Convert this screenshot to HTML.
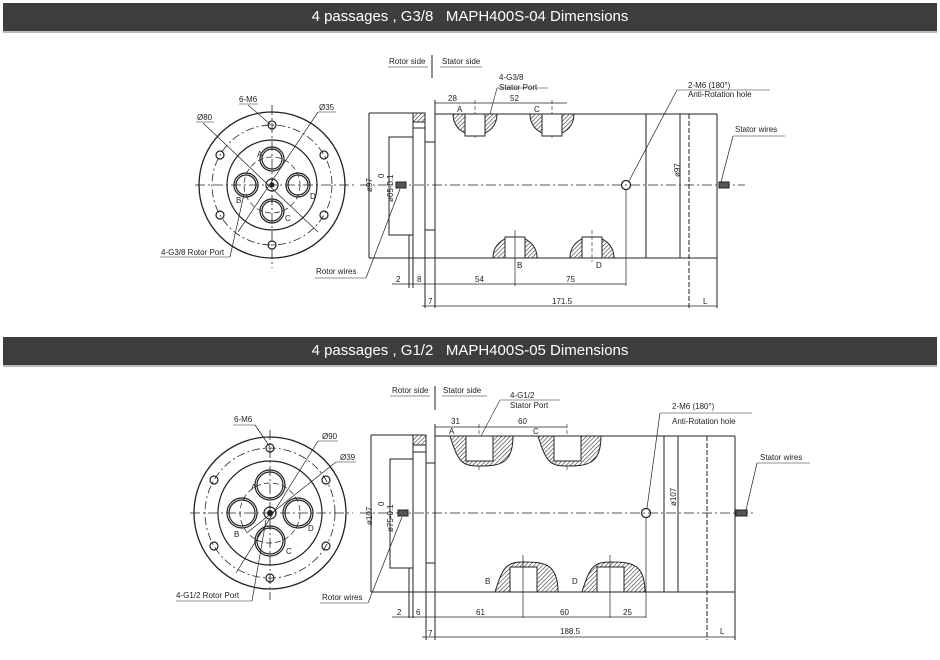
<!DOCTYPE html>
<html><head><meta charset="utf-8"><style>
html,body{margin:0;padding:0;background:#fff;width:940px;height:660px;overflow:hidden}
.bar{position:absolute;left:3px;width:934px;height:28px;background:#3d3d3d;color:#fff;font:15px "Liberation Sans",sans-serif;text-align:center;line-height:28px;border-bottom:2px solid #bbb}
svg{position:absolute;left:0;top:0}
text{font-family:"Liberation Sans",sans-serif;font-size:8px;fill:#222}
</style></head><body>
<div class="bar" style="top:3px">4 passages , G3/8 &nbsp; MAPH400S-04 Dimensions</div>
<div class="bar" style="top:337px">4 passages , G1/2 &nbsp; MAPH400S-05 Dimensions</div>
<svg width="940" height="660" viewBox="0 0 940 660">
<defs>
<pattern id="h" width="3" height="3" patternUnits="userSpaceOnUse" patternTransform="rotate(45)"><rect width="3" height="3" fill="#fff"/><line x1="0" y1="0" x2="0" y2="3" stroke="#333" stroke-width="1.2"/></pattern>
</defs>
<g fill="none" stroke="#222" stroke-width="1">
<!-- ===== Drawing 1 circle view ===== -->
<circle cx="272" cy="185" r="73" stroke-width="1.3"/>
<circle cx="272" cy="185" r="60" stroke-dasharray="8,3,2,3" stroke-width="0.8"/>
<circle cx="272" cy="185" r="45" stroke-width="1.2"/>
<circle cx="272" cy="185" r="28" stroke-dasharray="6,3" stroke-width="0.7"/>
<g stroke-width="1.2">
<circle cx="272" cy="125" r="4"/><circle cx="272" cy="245" r="4"/>
<circle cx="220" cy="155" r="4"/><circle cx="324" cy="155" r="4"/>
<circle cx="220" cy="215" r="4"/><circle cx="324" cy="215" r="4"/>
<circle cx="272" cy="159" r="12"/><circle cx="272" cy="159" r="10"/>
<circle cx="272" cy="211" r="12"/><circle cx="272" cy="211" r="10"/>
<circle cx="246" cy="185" r="12"/><circle cx="246" cy="185" r="10"/>
<circle cx="298" cy="185" r="12"/><circle cx="298" cy="185" r="10"/>
<circle cx="272" cy="185" r="6"/>
</g>
<circle cx="272" cy="185" r="2" fill="#222"/>
<line x1="195" y1="185" x2="355" y2="185" stroke-dasharray="10,3,2,3" stroke-width="0.8"/>
<line x1="272" y1="105" x2="272" y2="268" stroke-dasharray="10,3,2,3" stroke-width="0.8"/>
<line x1="239" y1="104" x2="258" y2="104" stroke-width="0.6"/>
<line x1="248" y1="105" x2="271" y2="125" stroke-width="0.7"/>
<line x1="196" y1="122" x2="214" y2="122" stroke-width="0.6"/>
<line x1="203" y1="123" x2="318" y2="232" stroke-width="0.7"/>
<line x1="318" y1="112" x2="336" y2="112" stroke-width="0.6"/>
<line x1="318" y1="112" x2="238" y2="232" stroke-width="0.7"/>
<line x1="160" y1="257" x2="230" y2="257" stroke-width="0.6"/>
<line x1="230" y1="257" x2="244" y2="194" stroke-width="0.7"/>

<!-- ===== Drawing 1 side view ===== -->
<line x1="388" y1="67" x2="428" y2="67" stroke-width="0.6"/>
<line x1="432" y1="55" x2="432" y2="78"/>
<line x1="440" y1="67" x2="482" y2="67" stroke-width="0.6"/>
<polyline points="369,113 369,258" />
<line x1="369" y1="113" x2="413" y2="113"/>
<line x1="369" y1="258" x2="717" y2="258"/>
<rect x="389" y="137" width="24" height="98"/>
<rect x="413" y="113" width="12" height="9" fill="url(#h)"/>
<rect x="413" y="122" width="12" height="6"/>
<line x1="413" y1="113" x2="413" y2="288"/>
<line x1="409" y1="235" x2="409" y2="288"/>
<line x1="425" y1="113" x2="425" y2="308"/>
<rect x="425" y="142" width="10" height="88"/>
<line x1="435" y1="100" x2="435" y2="308"/>
<line x1="435" y1="114" x2="717" y2="114"/>
<line x1="435" y1="103" x2="567" y2="103" stroke-width="0.7"/>
<line x1="475" y1="100" x2="475" y2="138" stroke-dasharray="4,2" stroke-width="0.6"/>
<line x1="552" y1="100" x2="552" y2="138" stroke-dasharray="4,2" stroke-width="0.6"/>
<line x1="717" y1="114" x2="717" y2="308"/>
<line x1="646" y1="114" x2="646" y2="258"/>
<line x1="680" y1="114" x2="680" y2="258"/>
<line x1="689" y1="114" x2="689" y2="308" stroke-dasharray="5,2"/>
<line x1="360" y1="185" x2="745" y2="185" stroke-dasharray="10,3,2,3" stroke-width="0.8"/>
<!-- ports top -->
<g><path d="M453,114 C453,142 497,142 497,114 Z" fill="url(#h)"/><rect x="465" y="114" width="20" height="22" fill="#fff"/></g>
<g><path d="M530,114 C530,142 574,142 574,114 Z" fill="url(#h)"/><rect x="542" y="114" width="20" height="22" fill="#fff"/></g>
<g><path d="M493,258 C493,230 537,230 537,258 Z" fill="url(#h)"/><rect x="505" y="237" width="20" height="21" fill="#fff"/></g>
<g><path d="M570,258 C570,230 614,230 614,258 Z" fill="url(#h)"/><rect x="582" y="237" width="20" height="21" fill="#fff"/></g>
<line x1="515" y1="230" x2="515" y2="286" stroke-width="0.7"/>
<line x1="592" y1="230" x2="592" y2="262" stroke-dasharray="4,2" stroke-width="0.6"/>
<circle cx="626" cy="185" r="4.5" stroke-width="1.3"/>
<line x1="626" y1="190" x2="626" y2="286" stroke-width="0.7"/>
<line x1="629" y1="181" x2="677" y2="90" stroke-width="0.7"/>
<line x1="677" y1="90" x2="770" y2="90" stroke-width="0.6"/>
<line x1="490" y1="114" x2="497" y2="88" stroke-width="0.6"/>
<line x1="497" y1="88" x2="548" y2="88" stroke-width="0.6"/>
<rect x="396" y="182" width="10" height="6" fill="#555"/>
<rect x="719" y="182" width="10" height="6" fill="#555"/>
<line x1="721" y1="182" x2="733" y2="136" stroke-width="0.7"/>
<line x1="733" y1="136" x2="785" y2="136" stroke-width="0.6"/>
<line x1="400" y1="189" x2="366" y2="278" stroke-width="0.7"/>
<line x1="366" y1="278" x2="315" y2="278" stroke-width="0.6"/>
<line x1="392" y1="284" x2="626" y2="284" stroke-width="0.7"/>
<line x1="422" y1="306" x2="717" y2="306" stroke-width="0.7"/>

<!-- ===== Drawing 2 circle view ===== -->
<circle cx="270" cy="513" r="76" stroke-width="1.3"/>
<circle cx="270" cy="513" r="65" stroke-dasharray="8,3,2,3" stroke-width="0.8"/>
<circle cx="270" cy="513" r="52" stroke-width="1.2"/>
<circle cx="270" cy="513" r="30" stroke-dasharray="6,3" stroke-width="0.7"/>
<g stroke-width="1.2">
<circle cx="270" cy="448" r="4"/><circle cx="270" cy="578" r="4"/>
<circle cx="214" cy="480" r="4"/><circle cx="326" cy="480" r="4"/>
<circle cx="214" cy="546" r="4"/><circle cx="326" cy="546" r="4"/>
<circle cx="270" cy="485" r="15"/><circle cx="270" cy="485" r="13"/>
<circle cx="270" cy="541" r="15"/><circle cx="270" cy="541" r="13"/>
<circle cx="242" cy="513" r="15"/><circle cx="242" cy="513" r="13"/>
<circle cx="298" cy="513" r="15"/><circle cx="298" cy="513" r="13"/>
<circle cx="270" cy="513" r="6"/>
</g>
<circle cx="270" cy="513" r="2.5" fill="#222"/>
<line x1="190" y1="513" x2="353" y2="513" stroke-dasharray="10,3,2,3" stroke-width="0.8"/>
<line x1="270" y1="430" x2="270" y2="600" stroke-dasharray="10,3,2,3" stroke-width="0.8"/>
<line x1="233" y1="425" x2="255" y2="425" stroke-width="0.6"/>
<line x1="255" y1="425" x2="270" y2="447" stroke-width="0.7"/>
<line x1="318" y1="441" x2="338" y2="441" stroke-width="0.6"/>
<line x1="318" y1="441" x2="236" y2="573" stroke-width="0.7"/>
<line x1="336" y1="462" x2="356" y2="462" stroke-width="0.6"/>
<line x1="336" y1="462" x2="248" y2="532" stroke-width="0.7"/>
<line x1="176" y1="601" x2="252" y2="601" stroke-width="0.6"/>
<line x1="252" y1="601" x2="266" y2="520" stroke-width="0.7"/>

<!-- ===== Drawing 2 side view ===== -->
<line x1="390" y1="396" x2="430" y2="396" stroke-width="0.6"/>
<line x1="435" y1="386" x2="435" y2="410"/>
<line x1="442" y1="396" x2="487" y2="396" stroke-width="0.6"/>
<line x1="371" y1="435" x2="371" y2="592"/>
<line x1="371" y1="435" x2="413" y2="435"/>
<line x1="371" y1="592" x2="735" y2="592"/>
<rect x="390" y="459" width="23" height="109"/>
<rect x="413" y="435" width="13" height="10" fill="url(#h)"/>
<rect x="413" y="445" width="13" height="7"/>
<line x1="413" y1="435" x2="413" y2="618"/>
<line x1="409" y1="568" x2="409" y2="618"/>
<line x1="426" y1="435" x2="426" y2="640"/>
<rect x="426" y="463" width="9" height="100"/>
<line x1="435" y1="424" x2="435" y2="640"/>
<line x1="435" y1="436" x2="735" y2="436"/>
<line x1="435" y1="427" x2="567" y2="427" stroke-width="0.7"/>
<line x1="479" y1="424" x2="479" y2="470" stroke-dasharray="4,2" stroke-width="0.6"/>
<line x1="567" y1="424" x2="567" y2="472" stroke-dasharray="4,2" stroke-width="0.6"/>
<line x1="735" y1="436" x2="735" y2="640"/>
<line x1="664" y1="436" x2="664" y2="592"/>
<line x1="678" y1="436" x2="678" y2="592"/>
<line x1="707" y1="436" x2="707" y2="640" stroke-dasharray="5,2"/>
<line x1="360" y1="513" x2="755" y2="513" stroke-dasharray="10,3,2,3" stroke-width="0.8"/>
<g><path d="M450,436 C458,462 462,466 479,466 C500,466 513,464 513,436 Z" fill="url(#h)"/><rect x="466" y="436" width="27" height="25" fill="#fff"/></g>
<g><path d="M538,436 C546,462 550,466 567,466 C588,466 601,464 601,436 Z" fill="url(#h)"/><rect x="554" y="436" width="27" height="25" fill="#fff"/></g>
<g><path d="M495,592 C503,566 507,562 524,562 C545,562 558,564 558,592 Z" fill="url(#h)"/><rect x="510" y="567" width="27" height="25" fill="#fff"/></g>
<g><path d="M582,592 C590,566 594,562 611,562 C632,562 645,564 645,592 Z" fill="url(#h)"/><rect x="597" y="567" width="27" height="25" fill="#fff"/></g>
<line x1="523" y1="555" x2="523" y2="618" stroke-width="0.7"/>
<line x1="610" y1="555" x2="610" y2="618" stroke-width="0.7"/>
<circle cx="646" cy="513" r="4.5" stroke-width="1.3"/>
<line x1="646" y1="518" x2="646" y2="618" stroke-width="0.7"/>
<line x1="647" y1="508" x2="660" y2="413" stroke-width="0.7"/>
<line x1="660" y1="413" x2="752" y2="413" stroke-width="0.6"/>
<line x1="481" y1="436" x2="500" y2="400" stroke-width="0.6"/>
<line x1="500" y1="400" x2="560" y2="400" stroke-width="0.6"/>
<rect x="398" y="510" width="10" height="6" fill="#555"/>
<rect x="736" y="510" width="11" height="6" fill="#555"/>
<line x1="746" y1="510" x2="757" y2="463" stroke-width="0.7"/>
<line x1="757" y1="463" x2="810" y2="463" stroke-width="0.6"/>
<line x1="402" y1="517" x2="368" y2="603" stroke-width="0.7"/>
<line x1="368" y1="603" x2="320" y2="603" stroke-width="0.6"/>
<line x1="392" y1="617" x2="646" y2="617" stroke-width="0.7"/>
<line x1="422" y1="637" x2="735" y2="637" stroke-width="0.7"/>
</g>

<!-- text drawing 1 -->
<text x="239" y="102">6-M6</text>
<text x="197" y="120">Ø80</text>
<text x="319" y="110">Ø35</text>
<text x="161" y="255" font-size="7">4-G3/8 Rotor Port</text>
<text x="257" y="157" font-size="6">A</text><text x="236" y="203" font-size="6">B</text>
<text x="285" y="221" font-size="6">C</text><text x="310" y="199" font-size="6">D</text>
<text x="389" y="64">Rotor side</text>
<text x="442" y="64">Stator side</text>
<text x="499" y="80">4-G3/8</text><text x="499" y="90">Stator Port</text>
<text x="448" y="101">28</text><text x="510" y="101">52</text>
<text x="457" y="112">A</text><text x="534" y="112">C</text>
<text x="517" y="268">B</text><text x="596" y="268">D</text>
<text x="688" y="88">2-M6 (180°)</text><text x="688" y="97">Anti-Rotation hole</text>
<text x="735" y="132">Stator wires</text>
<text x="316" y="274">Rotor wires</text>
<text x="396" y="282">2</text><text x="417" y="282">8</text>
<text x="475" y="282">54</text><text x="566" y="282">75</text>
<text x="428" y="304">7</text><text x="552" y="304">171.5</text><text x="703" y="304">L</text>
<text transform="translate(372,192) rotate(-90)">ø97</text>
<text transform="translate(384,178) rotate(-90)">0</text>
<text transform="translate(393,202) rotate(-90)">ø65-0.1</text>
<text transform="translate(680,177) rotate(-90)">ø97</text>
<!-- text drawing 2 -->
<text x="234" y="422">6-M6</text>
<text x="322" y="439">Ø90</text>
<text x="340" y="460">Ø39</text>
<text x="176" y="598" font-size="7">4-G1/2 Rotor Port</text>
<text x="251" y="490">A</text><text x="234" y="537">B</text>
<text x="286" y="554">C</text><text x="308" y="531">D</text>
<text x="392" y="393">Rotor side</text>
<text x="443" y="393">Stator side</text>
<text x="510" y="398" font-size="7">4-G1/2</text><text x="510" y="408" font-size="7">Stator Port</text>
<text x="451" y="424">31</text><text x="518" y="424">60</text>
<text x="449" y="434">A</text><text x="533" y="434">C</text>
<text x="485" y="584">B</text><text x="572" y="584">D</text>
<text x="672" y="409">2-M6 (180°)</text><text x="672" y="424">Anti-Rotation hole</text>
<text x="760" y="460">Stator wires</text>
<text x="322" y="600">Rotor wires</text>
<text x="397" y="615">2</text><text x="416" y="615">6</text>
<text x="476" y="615">61</text><text x="560" y="615">60</text><text x="623" y="615">25</text>
<text x="428" y="636">7</text><text x="560" y="634">188.5</text><text x="720" y="634">L</text>
<text transform="translate(372,525) rotate(-90)">ø107</text>
<text transform="translate(384,506) rotate(-90)">0</text>
<text transform="translate(393,532) rotate(-90)">ø75-0.1</text>
<text transform="translate(676,506) rotate(-90)">ø107</text>
</svg>
</body></html>
